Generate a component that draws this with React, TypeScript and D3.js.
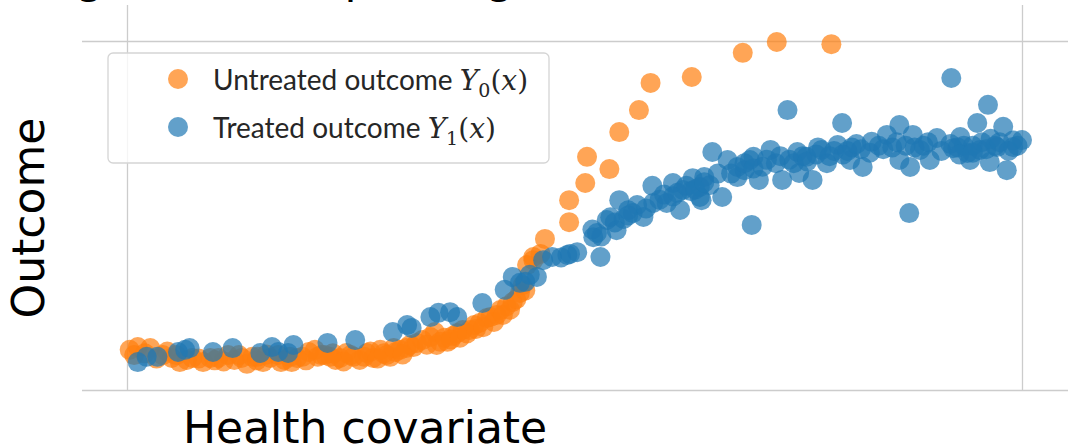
import React, { useRef, useEffect } from 'react';
import * as d3 from 'd3';

// health covariate (0-10) vs outcome (0-10)
const untreatedX = [
  0.03, 0.12, 0.26, 0.4, 0.5, 0.59, 0.67, 0.73, 0.85, 0.93, 1.02, 1.13, 1.2, 1.28, 1.34, 1.4, 1.46, 1.52,
  1.6, 1.69, 1.76, 1.84, 1.9, 1.96, 2.03, 2.1, 2.17, 2.21, 2.27, 2.33, 2.38, 2.45, 2.53, 2.6, 2.68, 2.75,
  2.83, 2.9, 2.94, 3.0, 3.05, 3.12, 3.16, 3.2, 3.3, 3.39, 3.44, 3.46, 3.5, 3.58, 3.64, 3.69, 3.75, 3.83,
  3.88, 3.94, 4.02, 4.06, 4.13, 4.17, 4.24, 4.31, 4.39, 4.54, 4.62, 4.47, 4.54, 4.67, 4.94, 4.94, 5.12,
  5.14, 5.39, 5.5, 5.72, 5.85, 6.31, 6.88, 7.26, 7.87,
  0.08, 0.2, 0.33, 0.45, 0.55, 0.8, 0.98, 1.08, 1.25, 1.45, 1.56, 1.72, 1.82, 2.0, 2.13, 2.3, 2.42, 2.5,
  2.65, 2.72, 2.8, 2.87, 2.98, 3.08, 3.24, 3.35, 3.55, 3.62, 3.72, 3.8, 3.9, 3.98, 4.1, 4.2, 4.28, 4.35,
  4.42, 4.45,
];
const untreatedY = [
  1.15, 1.23, 1.2, 1.0, 0.92, 0.8, 0.86, 0.92, 0.8, 0.92, 0.92, 1.0, 0.86, 0.92, 0.75, 0.95, 0.95, 0.8,
  0.92, 1.0, 0.86, 0.8, 0.92, 0.95, 1.09, 1.15, 1.0, 1.0, 0.95, 0.86, 0.92, 1.06, 0.95, 0.86, 1.06, 0.92,
  1.15, 1.0, 0.95, 1.09, 1.15, 1.2, 1.29, 1.23, 1.43, 1.52, 1.66, 1.29, 1.38, 1.38, 1.55, 1.63, 1.72, 1.72,
  1.86, 1.92, 2.06, 2.09, 2.15, 2.29, 2.4, 2.52, 2.78, 3.72, 3.9, 3.58, 3.81, 4.33, 4.81, 5.44, 5.93,
  6.68, 6.33, 7.39, 8.02, 8.8, 8.97, 9.66, 9.97, 9.91,
  1.0, 1.05, 0.9, 1.1, 1.0, 0.9, 0.85, 0.82, 1.0, 0.85, 1.02, 0.8, 0.95, 0.85, 0.95, 1.05, 0.82, 1.0,
  0.95, 1.1, 0.9, 1.05, 1.2, 1.02, 1.35, 1.3, 1.5, 1.45, 1.5, 1.62, 1.75, 1.8, 1.95, 2.15, 2.3, 2.6,
  3.0, 2.85,
];

const treatedX = [
  0.12, 0.22, 0.34, 0.57, 0.65, 0.7, 0.96, 1.18, 1.49, 1.62, 1.69, 1.8, 1.86, 2.24, 2.55, 2.97, 3.13, 3.18,
  3.39, 3.48, 3.61, 3.69, 3.97, 4.22, 4.31, 4.39, 4.58, 4.65, 4.75, 4.92, 5.03, 5.21, 5.29, 5.36, 5.47,
  5.5, 5.65, 5.77, 5.87, 5.88, 6.03, 6.1, 6.18, 6.21, 6.32, 6.4, 6.4, 6.42, 6.54, 6.51, 6.65, 6.71, 6.82,
  6.82, 6.96, 6.98, 7.06, 7.0, 7.19, 7.32, 7.38, 7.49, 7.51, 7.59, 7.66, 7.76, 7.82, 7.94, 7.99, 8.08,
  8.22, 8.32, 8.49, 8.63, 8.63, 8.75, 8.74, 8.78, 8.86, 8.97, 9.05, 9.21, 9.23, 9.31, 9.39, 9.42, 9.5,
  9.53, 9.62, 9.64, 9.72, 9.79, 9.83, 9.9, 10.0,
  6.6, 6.9, 7.1, 7.25, 7.4, 7.55, 7.7, 7.9, 8.1, 8.4, 8.9, 9.2, 9.35, 9.55, 9.7, 9.9, 8.0, 8.2, 8.55, 8.7,
  6.3, 6.0, 5.7, 5.4, 5.2, 5.6, 6.1,
  6.45, 6.75, 6.9, 7.0, 7.15, 7.3, 7.45, 7.6, 7.72, 7.85, 8.05, 8.15, 8.3, 8.45, 8.6, 8.8, 8.95, 9.1,
  9.28, 9.45, 9.6, 9.75, 9.85, 9.95, 9.3, 9.65, 9.45,
  5.25, 5.3, 5.45, 5.55, 5.6, 5.8, 5.95, 6.15, 6.25, 6.35, 6.45, 4.45, 4.5, 4.85, 4.95,
];
const treatedY = [
  0.8, 0.95, 0.95, 1.09, 1.15, 1.2, 1.09, 1.2, 1.06, 1.23, 1.09, 1.06, 1.29, 1.35, 1.43, 1.66, 1.86, 1.78,
  2.09, 2.21, 2.23, 2.09, 2.49, 2.87, 3.24, 3.07, 3.24, 3.72, 3.81, 3.87, 3.95, 4.38, 3.81, 4.87, 4.58,
  5.44, 5.07, 4.96, 5.85, 5.36, 5.36, 5.93, 5.16, 5.73, 6.07, 5.53, 5.82, 5.44, 6.82, 5.87, 5.53, 6.59, 6.39,
  6.1, 6.59, 4.73, 6.02, 6.68, 6.88, 6.02, 8.02, 6.82, 6.22, 6.68, 6.02, 6.88, 6.5, 7.02, 7.65, 6.59,
  6.39, 7.11, 7.31, 7.59, 6.59, 6.39, 5.07, 7.31, 6.88, 6.59, 7.22, 8.94, 6.93, 7.25, 6.79, 6.59, 7.65,
  6.88, 8.17, 6.53, 6.96, 7.54, 6.3, 6.96, 7.16,
  6.2, 6.3, 6.4, 6.5, 6.6, 6.7, 6.75, 6.85, 6.95, 7.0, 7.0, 7.05, 7.0, 7.1, 7.0, 7.15, 6.75, 6.9, 6.95, 7.0,
  5.7, 5.6, 5.3, 4.95, 4.6, 5.15, 5.55,
  6.1, 6.2, 6.5, 6.35, 6.6, 6.7, 6.5, 6.55, 6.95, 6.7, 6.85, 7.05, 6.8, 6.9, 7.1, 6.95, 7.1, 6.85,
  6.95, 7.0, 6.9, 7.1, 6.85, 7.0, 6.75, 7.2, 6.8,
  4.5, 4.4, 4.8, 4.9, 5.0, 5.2, 5.45, 5.65, 5.85, 5.75, 5.95, 3.1, 3.3, 3.8, 3.9,
];

const xTicks = [0, 10];
const yTicks = [0, 10];

const series = [
  { name: 'Untreated outcome', sub: '0', color: '#ff7f0e', xs: untreatedX, ys: untreatedY },
  { name: 'Treated outcome', sub: '1', color: '#1f77b4', xs: treatedX, ys: treatedY },
];

const W = 1068;
const H = 446;

const App = () => {
  const svgRef = useRef(null);

  useEffect(() => {
    const svg = d3.select(svgRef.current);
    svg.selectAll('*').remove();

    const left = 82;
    const top = 5;
    const bottom = 391;
    const right = 1068;

    const x = d3.scaleLinear().domain([0, 10]).range([127, 1022]);
    const y = d3.scaleLinear().domain([0, 10]).range([390, 41]);

    // grid (seaborn whitegrid style, no spines, no tick labels)
    const xAxis = d3.axisBottom(x).tickValues(xTicks).tickSize(-(bottom - top)).tickFormat(() => '');
    const yAxis = d3.axisLeft(y).tickValues(yTicks).tickSize(-(right - left)).tickFormat(() => '');
    const gx = svg.append('g').attr('transform', `translate(0, ${bottom})`).call(xAxis);
    const gy = svg.append('g').attr('transform', `translate(${left}, 0)`).call(yAxis);
    [gx, gy].forEach((g) => {
      g.select('.domain').remove();
      g.selectAll('line').attr('stroke', '#cccccc').attr('stroke-width', 1.3);
    });

    // points
    series.forEach((s) => {
      svg
        .append('g')
        .selectAll('circle')
        .data(s.xs.map((v, i) => [v, s.ys[i]]))
        .join('circle')
        .attr('cx', (d) => x(d[0]))
        .attr('cy', (d) => y(d[1]))
        .attr('r', 10)
        .attr('fill', s.color)
        .attr('fill-opacity', 0.7);
    });

    // legend
    const lg = svg.append('g');
    lg.append('rect')
      .attr('x', 108)
      .attr('y', 53)
      .attr('width', 441)
      .attr('height', 110)
      .attr('rx', 5)
      .attr('fill', 'white')
      .attr('fill-opacity', 0.8)
      .attr('stroke', '#d5d5d5')
      .attr('stroke-width', 1.3);
    series.forEach((s, i) => {
      const cy = 79 + i * 48;
      lg.append('circle').attr('cx', 178).attr('cy', cy).attr('r', 10).attr('fill', s.color).attr('fill-opacity', 0.7);
      const t = lg
        .append('text')
        .attr('x', 213)
        .attr('y', cy + 11)
        .attr('font-family', 'Lato, sans-serif')
        .attr('font-size', 28)
        .attr('fill', '#262626');
      t.append('tspan').text(s.name + ' ');
      const serif = 'DejaVu Serif, serif';
      t.append('tspan').attr('font-family', serif).attr('font-style', 'italic').attr('font-size', 28).text('Y');
      t.append('tspan').attr('font-family', serif).attr('font-size', 19).attr('dy', 7).text(s.sub);
      t.append('tspan').attr('font-family', serif).attr('font-size', 28).attr('dy', -7).text('(');
      t.append('tspan').attr('font-family', serif).attr('font-style', 'italic').attr('font-size', 28).text('x');
      t.append('tspan').attr('font-family', serif).attr('font-size', 28).text(')');
    });

    // axis labels
    svg
      .append('text')
      .attr('transform', `translate(44, 218) rotate(-90)`)
      .attr('text-anchor', 'middle')
      .attr('font-family', 'DejaVu Sans, sans-serif')
      .attr('font-size', 44)
      .text('Outcome');
    svg
      .append('text')
      .attr('x', 183)
      .attr('y', 443)
      .attr('font-family', 'DejaVu Sans, sans-serif')
      .attr('font-size', 44)
      .text('Health covariate');

    // title, mostly above the visible area
    svg
      .append('text')
      .attr('x', -41)
      .attr('y', -7)
      .attr('font-family', 'DejaVu Sans, sans-serif')
      .attr('font-size', 44)
      .text('Strong selection: plotting outcomes');
  }, []);

  return (
    <svg
      ref={svgRef}
      width={W}
      height={H}
      style={{ position: 'absolute', left: 0, top: 0, background: 'white' }}
    ></svg>
  );
};

export default App;
